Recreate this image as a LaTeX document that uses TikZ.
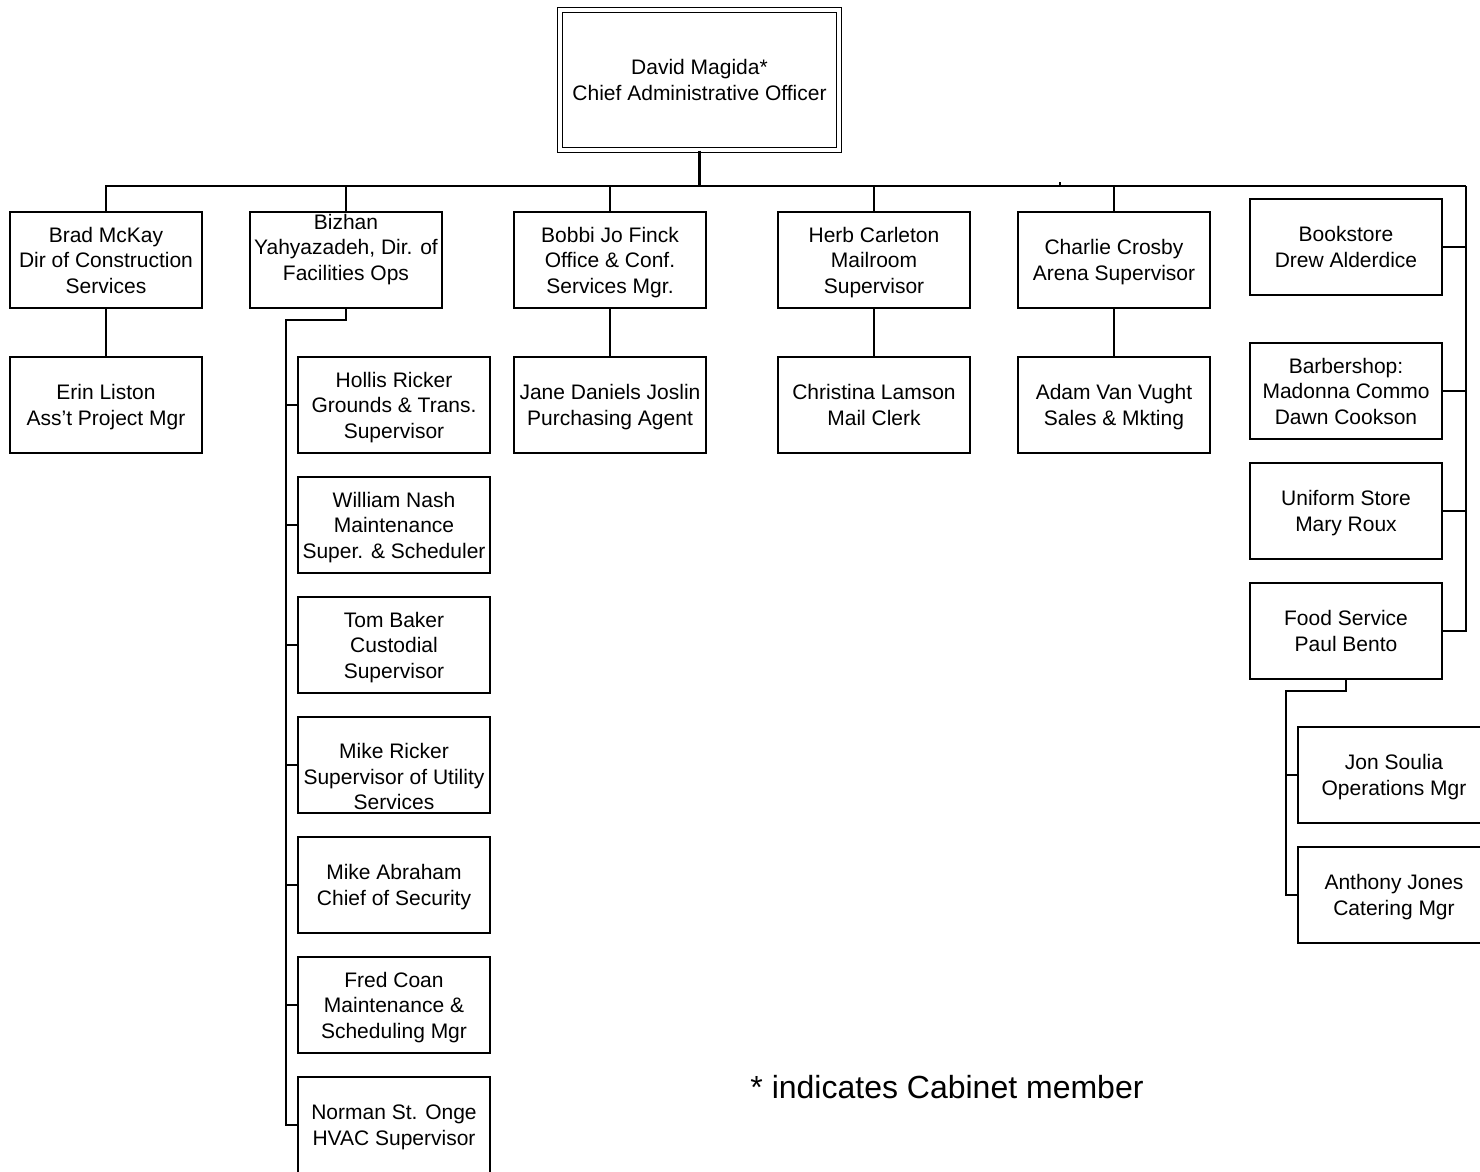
\documentclass[tikz,border=0pt]{standalone}
\usepackage{fontspec}
\setmainfont{Liberation Sans}
\begin{document}
\begin{tikzpicture}[x=1pt,y=-1pt,
  box/.style={draw=black,line width=1.5pt,minimum width=192pt,minimum height=96pt,inner sep=0pt,align=center,font=\fontsize{21}{25.6}\selectfont,
    text depth=0pt},
  conn/.style={draw=black,line width=1.5pt},
  heavy/.style={draw=black,line width=2.4pt}]
\useasboundingbox (0,0) rectangle (1480,1171);
\clip (0,0) rectangle (1480,1171);
\fill[white] (0,0) rectangle (1480,1171);
% top
\node[box,double,double distance=3.5pt,line width=1.3pt,minimum width=279pt,minimum height=140pt] (top) at (699.5,80) {David Magida*\\Chief Administrative Officer};
% row 1
\node[box] (brad) at (106,260) {Brad McKay\\Dir of Construction\\Services};
\node[box] (bizhan) at (346,260) {Bizhan\\Yahyazadeh, Dir. of\\Facilities Ops\\\mbox{}};
\node[box] (bobbi) at (610,260) {Bobbi Jo Finck\\Office \& Conf.\\Services Mgr.};
\node[box] (herb) at (874,260) {Herb Carleton\\Mailroom\\Supervisor};
\node[box] (charlie) at (1114,260) {Charlie Crosby\\Arena Supervisor};
% row 2
\node[box] (erin) at (106,405) {Erin Liston\\Ass’t Project Mgr};
\node[box] (jane) at (610,405) {Jane Daniels Joslin\\Purchasing Agent};
\node[box] (christina) at (874,405) {Christina Lamson\\Mail Clerk};
\node[box] (adam) at (1114,405) {Adam Van Vught\\Sales \& Mkting};
% facilities column
\node[box] (hollis) at (394,405) {Hollis Ricker\\Grounds \& Trans.\\Supervisor};
\node[box] (william) at (394,525) {William Nash\\Maintenance\\Super. \& Scheduler};
\node[box] (tom) at (394,645) {Tom Baker\\Custodial\\Supervisor};
\node[box] (mike) at (394,765) {\rule{0pt}{13pt}\\Mike Ricker\\Supervisor of Utility\\Services};
\node[box] (abraham) at (394,885) {Mike Abraham\\Chief of Security};
\node[box] (fred) at (394,1005) {Fred Coan\\Maintenance \&\\Scheduling Mgr};
\node[box] (norman) at (394,1125) {Norman St. Onge\\HVAC Supervisor};
% right column
\node[box] (book) at (1346,247) {Bookstore\\Drew Alderdice};
\node[box] (barber) at (1346,391) {Barbershop:\\Madonna Commo\\Dawn Cookson};
\node[box] (uniform) at (1346,511) {Uniform Store\\Mary Roux};
\node[box] (food) at (1346,631) {Food Service\\Paul Bento};
\node[box] (jon) at (1394,775) {Jon Soulia\\Operations Mgr};
\node[box] (anthony) at (1394,895) {Anthony Jones\\Catering Mgr};
% legend
\node[font=\fontsize{32}{38}\selectfont,inner sep=0pt] (legend) at (947,1087) {* indicates Cabinet member};
% connectors
\coordinate (bus) at (1466,186);
\coordinate (tick) at (1060,182);
\draw[conn] (brad.north) |- (bus);
\draw[conn] (bus) |- (food.east);
\draw[heavy] (top.south) -- (top.south |- bus);
\draw[conn] (tick) -- (tick |- bus);
\foreach \n in {bizhan,bobbi,herb,charlie} \draw[conn] (\n.north) -- (\n.north |- bus);
\foreach \n in {book,barber,uniform} \draw[conn] (\n.east) -- (\n.east -| bus);
\draw[conn] (brad.south) -- (erin.north);
\draw[conn] (bobbi.south) -- (jane.north);
\draw[conn] (herb.south) -- (christina.north);
\draw[conn] (charlie.south) -- (adam.north);
% facilities connectors
\coordinate (bz) at (286,320);
\draw[heavy,line width=2pt] (bizhan.south) |- (bz) |- (norman.west);
\foreach \n in {hollis,william,tom,mike,abraham,fred} \draw[conn] (\n.west) -- (\n.west -| bz);
% food connectors
\coordinate (fd) at (1286,691);
\draw[heavy,line width=2pt] (food.south) |- (fd) |- (anthony.west);
\draw[conn] (jon.west) -- (jon.west -| fd);
\end{tikzpicture}
\end{document}
